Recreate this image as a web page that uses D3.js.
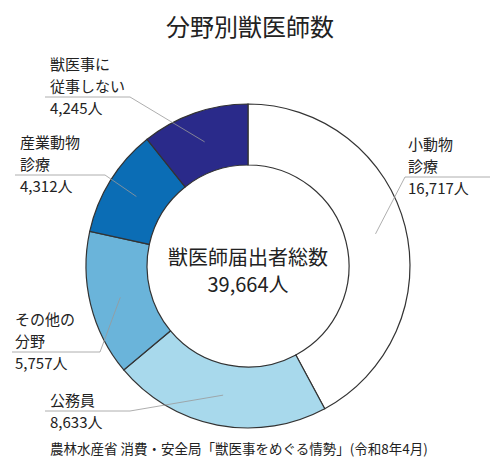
<!DOCTYPE html>
<html><head><meta charset="utf-8">
<script src="https://cdn.jsdelivr.net/npm/d3@7"></script>
<style>body{margin:0;background:#fff}text{font-family:"Noto Sans CJK JP",sans-serif;fill:#222}</style>
</head><body><svg id="c" width="500" height="472"></svg>
<script>
const categories=["小動物診療","公務員","その他の分野","産業動物診療","獣医事に従事しない"];
const values=[16717,8633,5757,4312,4245];
const colors=["#ffffff","#a8d9ec","#6ab4da","#0b6db5","#2a2a8a"];
const labelLines=[["小動物","診療","16,717人"],["公務員","8,633人"],["その他の","分野","5,757人"],["産業動物","診療","4,312人"],["獣医事に","従事しない","4,245人"]];
const labelPos=[{x:408,y:150,ux:[490,405]},{x:50,y:406,ux:[45,130]},{x:15,y:325,ux:[12,100]},{x:20,y:148,ux:[15,105]},{x:50,y:70,ux:[45,130]}];
const svg=d3.select("#c");
const cx=248,cy=266,R=162,r=101;
svg.append("text").attr("x",250).attr("y",36).attr("text-anchor","middle").attr("font-size",24).text("分野別獣医師数");
const pie=d3.pie().sort(null)(values);
const arc=d3.arc().innerRadius(r).outerRadius(R);
const g=svg.append("g").attr("transform",`translate(${cx},${cy})`);
g.selectAll("path").data(pie).join("path").attr("d",arc).attr("fill",(d,i)=>colors[i]).attr("stroke","#333").attr("stroke-width",1.2);
g.append("text").attr("text-anchor","middle").attr("y",-1).attr("font-size",20).text("獣医師届出者総数");
g.append("text").attr("text-anchor","middle").attr("y",26).attr("font-size",20).text("39,664人");
pie.forEach((d,i)=>{
  const p=labelPos[i],n=labelLines[i].length;
  labelLines[i].forEach((t,j)=>svg.append("text").attr("x",p.x).attr("y",p.y+j*22).attr("font-size",15).text(t));
  const ly=p.y+(n-2)*22+5;
  const a=(d.startAngle+d.endAngle)/2, rr=r+(R-r)*0.5;
  const tx=cx+Math.sin(a)*rr, ty=cy-Math.cos(a)*rr;
  svg.append("polyline").attr("points",`${p.ux[0]},${ly} ${p.ux[1]},${ly} ${tx},${ty}`).attr("fill","none").attr("stroke","#999").attr("stroke-width",0.8);
});
svg.append("text").attr("x",50).attr("y",454).attr("font-size",13.5).text("農林水産省 消費・安全局「獣医事をめぐる情勢」(令和8年4月)");
</script></body></html>
